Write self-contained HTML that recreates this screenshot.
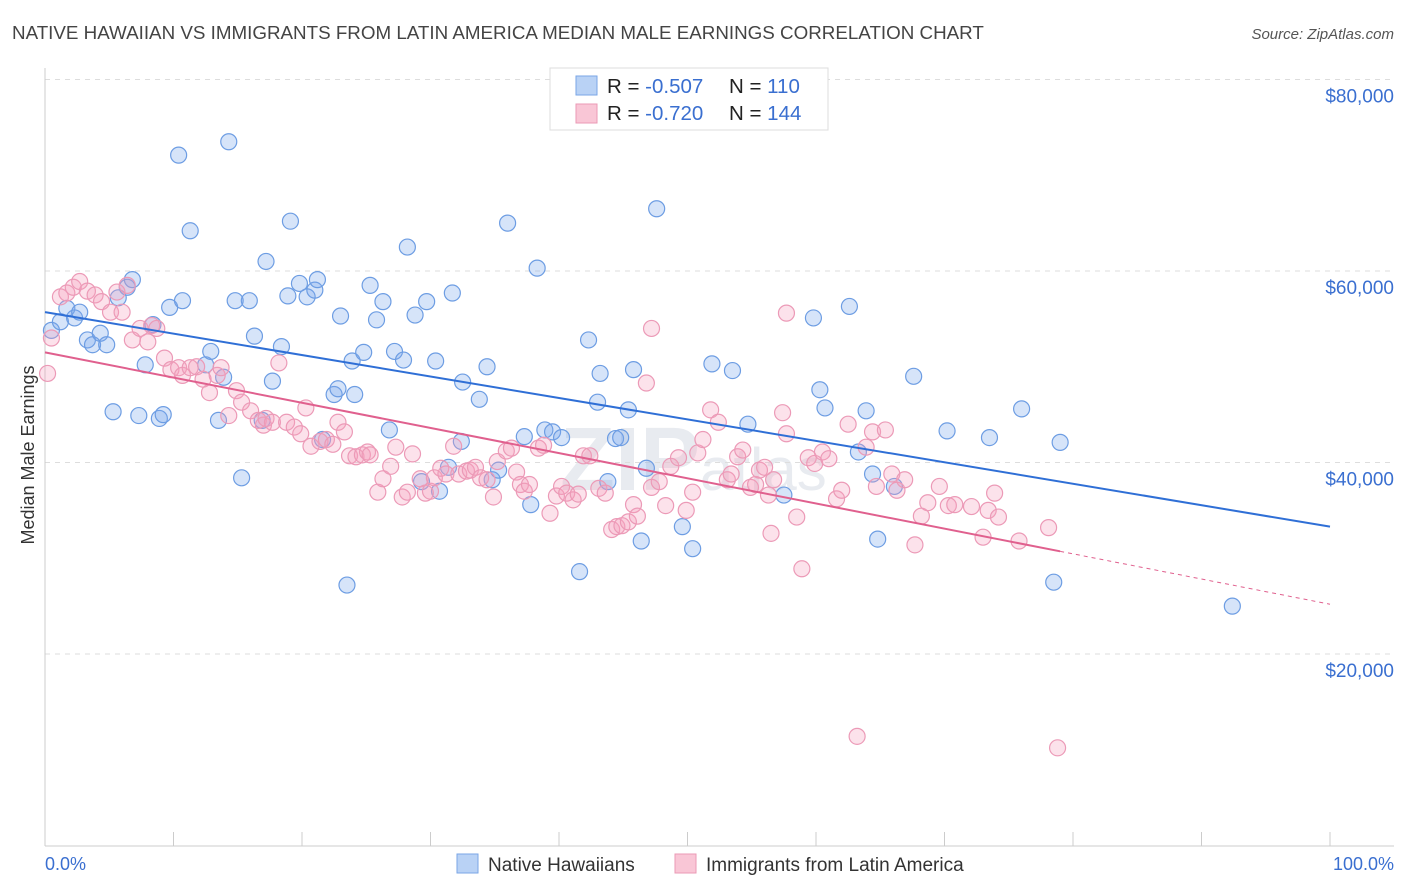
<!DOCTYPE html>
<html><head><meta charset="utf-8">
<style>
body{margin:0;background:#fff;font-family:"Liberation Sans",sans-serif;}
svg{display:block}
</style></head>
<body>
<svg id="chart" width="1406" height="892">
<text x="12" y="39" font-size="18.8" fill="#444">NATIVE HAWAIIAN VS IMMIGRANTS FROM LATIN AMERICA MEDIAN MALE EARNINGS CORRELATION CHART</text>
<text x="1394" y="39" font-size="15" fill="#555" font-style="italic" text-anchor="end">Source: ZipAtlas.com</text>
<text x="560" y="490" font-size="90" fill="#e8ebf0" font-weight="bold">ZIP<tspan font-size="60" font-weight="normal">atlas</tspan></text>
<g id="grid"></g>
<g id="pts"></g>
<g id="lines"></g>
<text transform="translate(34,455) rotate(-90)" font-size="18" fill="#333" text-anchor="middle">Median Male Earnings</text>
<text x="45" y="870" font-size="18" fill="#3a6fd0">0.0%</text>
<text x="1394" y="870" font-size="18" fill="#3a6fd0" text-anchor="end">100.0%</text>
<g>
<rect x="550" y="68" width="278" height="62" fill="#fff" stroke="#ddd"/>
<rect x="576" y="76" width="21" height="19" fill="#b9d2f5" stroke="#7aa6e6"/>
<rect x="576" y="104" width="21" height="19" fill="#f9c6d6" stroke="#eb9ab5"/>
<text x="607" y="93" font-size="20.5" fill="#222">R = <tspan fill="#3a6fd0">-0.507</tspan><tspan x="729">N = </tspan><tspan fill="#3a6fd0">110</tspan></text>
<text x="607" y="120" font-size="20.5" fill="#222">R = <tspan fill="#3a6fd0">-0.720</tspan><tspan x="729">N = </tspan><tspan fill="#3a6fd0">144</tspan></text>
</g>
<g>
<rect x="457" y="854" width="21" height="19" fill="#b9d2f5" stroke="#7aa6e6"/>
<text x="488" y="871" font-size="19" fill="#333">Native Hawaiians</text>
<rect x="675" y="854" width="21" height="19" fill="#f9c6d6" stroke="#eb9ab5"/>
<text x="706" y="871" font-size="19" fill="#333">Immigrants from Latin America</text>
</g>
</svg>
<script>
const yTicks=[20000,40000,60000,80000];
const yTickLabels=["$20,000","$40,000","$60,000","$80,000"];
const blueX=[0.5,1.2,1.7,2.3,2.7,3.3,3.7,4.3,4.8,5.3,5.7,6.4,6.8,7.3,7.8,8.4,8.9,9.2,9.7,10.4,10.7,11.3,12.5,12.9,13.5,13.9,14.3,14.8,15.3,15.9,16.3,16.9,17.2,17.7,18.4,18.9,19.1,19.8,20.4,21.0,21.2,21.6,22.5,22.8,23.0,23.5,23.9,24.1,24.8,25.3,25.8,26.3,26.8,27.2,27.9,28.2,28.8,29.3,29.7,30.4,30.7,31.4,31.7,32.4,32.5,33.8,34.4,34.8,35.3,36.0,37.3,37.8,38.3,38.9,39.5,40.2,41.6,42.3,43.0,43.2,43.8,44.4,44.8,45.4,45.8,46.4,46.8,47.6,49.6,50.4,51.9,53.5,54.7,57.5,59.8,60.3,60.7,62.6,63.3,63.9,64.4,64.8,66.1,67.6,70.2,73.5,76.0,78.5,79.0,92.4];
const blueY=[53.8,54.7,56.1,55.1,55.7,52.8,52.3,53.5,52.3,45.3,57.2,58.3,59.1,44.9,50.2,54.4,44.6,45.0,56.2,72.1,56.9,64.2,50.2,51.6,44.4,48.9,73.5,56.9,38.4,56.9,53.2,44.4,61.0,48.5,52.1,57.4,65.2,58.7,57.3,58.0,59.1,42.4,47.1,47.7,55.3,27.2,50.6,47.1,51.5,58.5,54.9,56.8,43.4,51.6,50.7,62.5,55.4,38.0,56.8,50.6,37.0,39.5,57.7,42.2,48.4,46.6,50.0,38.2,39.2,65.0,42.7,35.6,60.3,43.4,43.2,42.6,28.6,52.8,46.3,49.3,38.0,42.5,42.6,45.5,49.7,31.8,39.4,66.5,33.3,31.0,50.3,49.6,44.0,36.6,55.1,47.6,45.7,56.3,41.1,45.4,38.8,32.0,37.5,49.0,43.3,42.6,45.6,27.5,42.1,25.0];
const pinkX=[0.2,0.5,1.2,1.7,2.2,2.7,3.3,3.9,4.4,5.1,5.6,6.0,6.4,6.8,7.4,8.0,8.3,8.7,9.3,9.8,10.4,10.7,11.3,11.8,12.3,12.8,13.4,13.7,14.3,14.9,15.3,16.0,16.6,17.0,17.2,17.7,18.2,18.8,19.4,19.9,20.3,20.7,21.4,21.9,22.4,22.8,23.3,23.7,24.2,24.7,25.1,25.3,25.9,26.3,26.9,27.3,27.8,28.2,28.6,29.2,29.6,30.0,30.3,30.8,31.2,31.8,32.2,32.8,33.1,33.5,33.9,34.4,34.9,35.2,35.9,36.3,36.7,37.0,37.3,37.7,38.4,38.8,39.3,39.8,40.2,40.6,41.1,41.5,41.9,42.4,43.1,43.6,44.1,44.5,44.9,45.4,45.8,46.1,46.8,47.2,47.8,48.3,48.7,49.3,49.9,50.4,50.8,51.2,51.8,52.4,53.1,53.4,53.9,54.3,54.9,55.3,55.6,56.0,56.3,56.5,56.7,57.4,57.7,58.5,58.9,59.4,59.9,60.5,61.0,61.6,62.0,62.5,63.2,63.9,64.4,64.7,65.4,65.9,66.3,66.9,67.7,68.2,68.7,69.6,70.3,70.8,72.1,73.0,73.4,73.9,74.2,75.8,78.1,78.8,57.7,47.2];
const pinkY=[49.3,53.0,57.3,57.7,58.3,58.9,57.9,57.5,56.8,55.7,57.8,55.7,58.5,52.8,54.0,52.6,54.3,54.0,50.9,49.7,49.9,49.1,49.9,50.0,48.7,47.3,49.1,49.9,44.9,47.5,46.3,45.4,44.4,43.9,44.6,44.2,50.4,44.2,43.7,43.0,45.7,41.7,42.2,42.4,41.9,44.2,43.2,40.7,40.6,40.8,41.1,40.8,36.9,38.3,39.6,41.6,36.4,36.9,40.9,38.3,36.8,37.0,38.4,39.4,38.8,41.7,38.8,39.1,39.2,39.5,38.4,38.2,36.4,40.1,41.2,41.5,39.0,37.7,37.0,37.7,41.5,41.8,34.7,36.5,37.5,36.8,36.1,36.7,40.7,40.7,37.3,36.8,33.0,33.3,33.4,33.8,35.6,34.4,48.3,37.4,38.0,35.5,39.6,40.5,35.0,36.9,41.0,42.4,45.5,44.2,38.2,38.8,40.6,41.3,37.4,37.7,39.2,39.5,36.6,32.6,38.2,45.2,43.0,34.3,28.9,40.5,39.9,41.1,40.4,36.2,37.1,44.0,11.4,41.6,43.2,37.5,43.4,38.8,37.1,38.2,31.4,34.4,35.8,37.5,35.5,35.6,35.4,32.2,35.0,36.8,34.3,31.8,33.2,10.2,55.6,54.0];
const blueTrend=[55.7,33.3];
const pinkTrend=[51.5,25.2];
const pinkSolidEnd=79;

const NS="http://www.w3.org/2000/svg";
const X0=45,X1=1330,YB=845.5;
const xs=v=>X0+(X1-X0)*v/100;
const ys=v=>YB-v/20000*191.5;
function mk(tag,attrs,parent){const e=document.createElementNS(NS,tag);for(const k in attrs)e.setAttribute(k,attrs[k]);parent.appendChild(e);return e;}
const grid=document.getElementById('grid');
yTicks.forEach((t,i)=>{
  const l=mk('line',{x1:X0,x2:1394,y1:ys(t),y2:ys(t),stroke:'#ddd','stroke-dasharray':'5,5'},grid);
  
  
  const tx=mk('text',{x:1394,y:ys(t)+23,'font-size':19,fill:'#3a6fd0','text-anchor':'end'},grid);
  tx.textContent=yTickLabels[i];
  
  
});
const ax=mk('line',{x1:X0,x2:X0,y1:68,y2:846,stroke:'#ccc'},grid);


const bx=mk('line',{x1:X0,x2:1394,y1:846,y2:846,stroke:'#ccc'},grid);


for(let i=0;i<=10;i++){
  const t=mk('line',{x1:xs(i*10),x2:xs(i*10),y1:832,y2:846,stroke:'#ccc'},grid);
  
  
}
const pts=document.getElementById('pts');
blueX.forEach((x,i)=>{
  const c=mk('circle',{cx:xs(x),cy:ys(blueY[i]*1000),r:8,fill:'rgba(120,165,235,0.3)',stroke:'#6d9de3','stroke-width':1.2},pts);
  
  
});
pinkX.forEach((x,i)=>{
  const c=mk('circle',{cx:xs(x),cy:ys(pinkY[i]*1000),r:8,fill:'rgba(245,160,190,0.3)',stroke:'#ec9ab7','stroke-width':1.2},pts);
  
  
});
const lines=document.getElementById('lines');
const tv=(tr,x)=>(tr[0]+(tr[1]-tr[0])*x/100)*1000;
const bl=mk('line',{x1:xs(0),y1:ys(tv(blueTrend,0)),x2:xs(100),y2:ys(tv(blueTrend,100)),stroke:'#2f6fd6','stroke-width':2},lines);


const pl=mk('line',{x1:xs(0),y1:ys(tv(pinkTrend,0)),x2:xs(pinkSolidEnd),y2:ys(tv(pinkTrend,pinkSolidEnd)),stroke:'#e0608e','stroke-width':2},lines);


const pd=mk('line',{x1:xs(pinkSolidEnd),y1:ys(tv(pinkTrend,pinkSolidEnd)),x2:xs(100),y2:ys(tv(pinkTrend,100)),stroke:'#e0608e','stroke-width':1,'stroke-dasharray':'4,4'},lines);


</script>
</body></html>
